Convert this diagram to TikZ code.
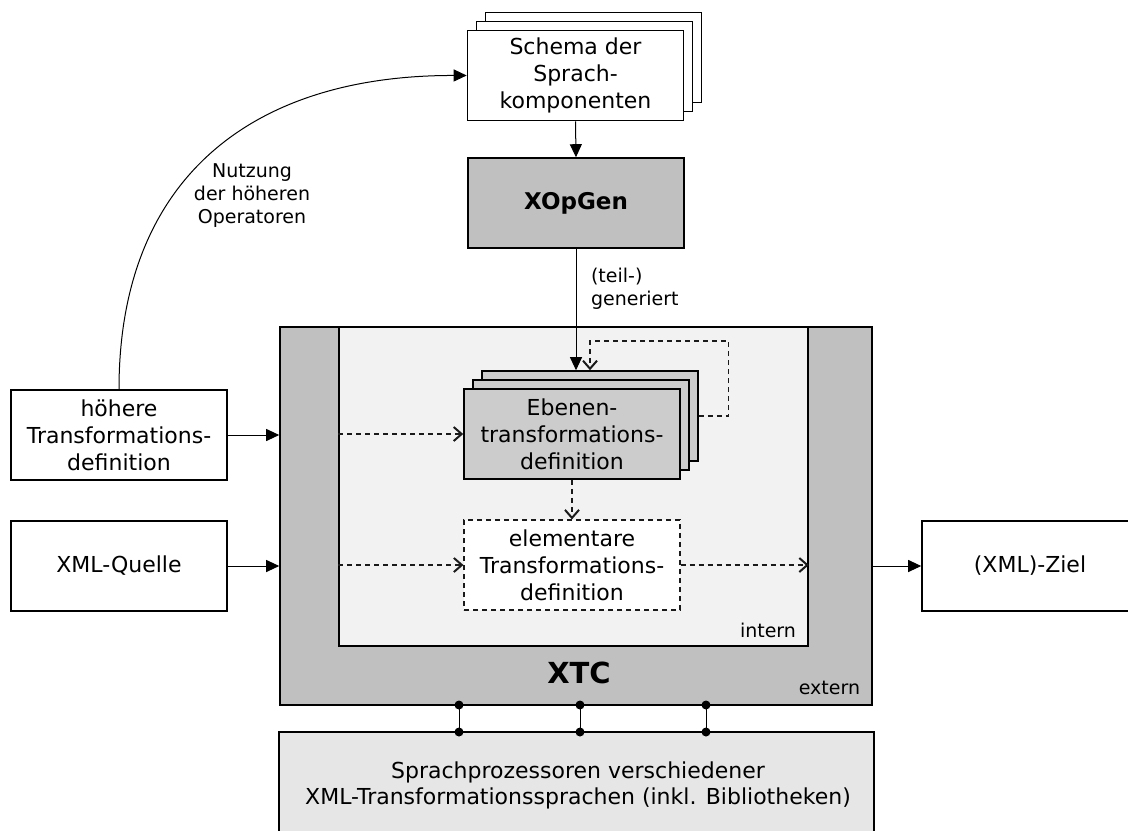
\documentclass[tikz,border=0pt]{standalone}
\usepackage{fontspec}
\setmainfont{DejaVu Sans}
\usetikzlibrary{arrows.meta,calc}
\definecolor{outergray}{HTML}{C0C0C0}
\definecolor{innergray}{HTML}{F2F2F2}
\definecolor{opgray}{HTML}{C0C0C0}
\definecolor{ebgray}{HTML}{CCCCCC}
\definecolor{botgray}{HTML}{E6E6E6}
\definecolor{dashgray}{HTML}{1A1A1A}
\begin{document}
\begin{tikzpicture}[x=0.5pt,y=-0.5pt,
  box/.style={draw, line width=0.8pt, inner sep=2pt, align=center,
    font=\fontsize{11}{13.5}\selectfont, minimum width=108pt, minimum height=45pt},
  small/.style={font=\fontsize{9.5}{11.5}\selectfont, align=center},
  conn/.style={line width=0.5pt, -{Triangle[length=6.5pt,width=6pt]}},
  dconn/.style={line width=0.55pt, draw=dashgray, dash pattern=on 2.5pt off 2pt,
    -{Straight Barb[length=4pt,width=7pt,line width=1pt]}},
  dotc/.style={circle, fill=black, inner sep=0pt, minimum size=4.5pt}
]
\useasboundingbox (0,0) rectangle (1128,830);
\fill[white] (0,0) rectangle (1128,830);

% XTC outer and inner
\node[draw, line width=0.8pt, fill=outergray, minimum width=296pt, minimum height=189pt, inner sep=0pt] (outer) at (576,516) {};
\node[draw, line width=0.8pt, fill=innergray, minimum width=234.5pt, minimum height=159.5pt, inner sep=0pt] (inner) at (573.5,486.5) {};
\node[font=\fontsize{14.5}{17}\selectfont\bfseries] (xtc) at (579,673) {XTC};
\node[small] (intern) at (768,630) {intern};
\node[small] (extern) at (829.5,688) {extern};

% Schema stack
\node[box, fill=white] (schC) at (593.5,57.5) {};
\node[box, fill=white] (schB) at (584.5,66.5) {};
\node[box, fill=white] (sch) at (575.5,75.5) {Schema der\\Sprach-\\komponenten};

% XOpGen
\node[box, fill=opgray, font=\fontsize{11.5}{13.5}\selectfont\bfseries] (xop) at (576,203) {XOpGen};

% left boxes
\node[box, fill=white] (hoeh) at (119,435) {höhere\\Transformations-\\definition};
\node[box, fill=white] (quelle) at (119,566) {XML-Quelle};
\node[box, fill=white] (ziel) at (1030,566) {(XML)-Ziel};

% Ebenen stack
\node[box, fill=ebgray] (ebC) at (590,416) {};
\node[box, fill=ebgray] (ebB) at (581,425) {};
\node[box, fill=ebgray] (eb) at (572,434) {Ebenen-\\transformations-\\definition};

% elementare
\node[box, fill=white, draw=dashgray, dash pattern=on 2.5pt off 2pt, line width=0.6pt] (elem) at (572,565) {elementare\\Transformations-\\definition};

% bottom box
\node[box, fill=botgray, minimum width=297.5pt, minimum height=54pt] (bot) at (576.5,786) {};
\node[font=\fontsize{11}{13}\selectfont, align=center] (bottxt) at (578,785) {Sprachprozessoren verschiedener\\XML-Transformationssprachen (inkl. Bibliotheken)};

% connectors
\draw[conn] (sch.south) -- (xop.north);
\draw[conn] (xop.south) -- (xop.south |- ebC.north);
\node[small, align=left, anchor=west] (teil) at (584,289) {(teil-)\\generiert};
\draw[dconn] (ebC.east) -- ++(30,0) -- ++(0,-75) -| (ebC.north);

\draw[conn] (hoeh.east) -- (hoeh.east -| outer.west);
\draw[conn] (quelle.east) -- (quelle.east -| outer.west);
\draw[conn] (ziel.west -| outer.east) -- (ziel.west);

\draw[dconn] (eb.west -| inner.west) -- (eb.west);
\draw[dconn] (elem.west -| inner.west) -- (elem.west);
\draw[dconn] (eb.south) -- (eb.south |- elem.north);
\draw[dconn] (elem.east) -- (elem.east -| inner.east);

\draw[line width=0.5pt, -{Triangle[length=6.5pt,width=6pt]}] (hoeh.north) .. controls (119,180) and (250,75) .. (sch.west);
\node[small] (nutz) at (252,196) {Nutzung\\der höheren\\Operatoren};

% links to bottom box
\foreach \i/\xx in {1/459,2/580,3/706}{
  \node[dotc] (t\i) at (\xx,705) {};
  \node[dotc] (b\i) at (\xx,732) {};
  \draw[line width=0.5pt] (t\i.center) -- (b\i.center);
}
\end{tikzpicture}
\end{document}
